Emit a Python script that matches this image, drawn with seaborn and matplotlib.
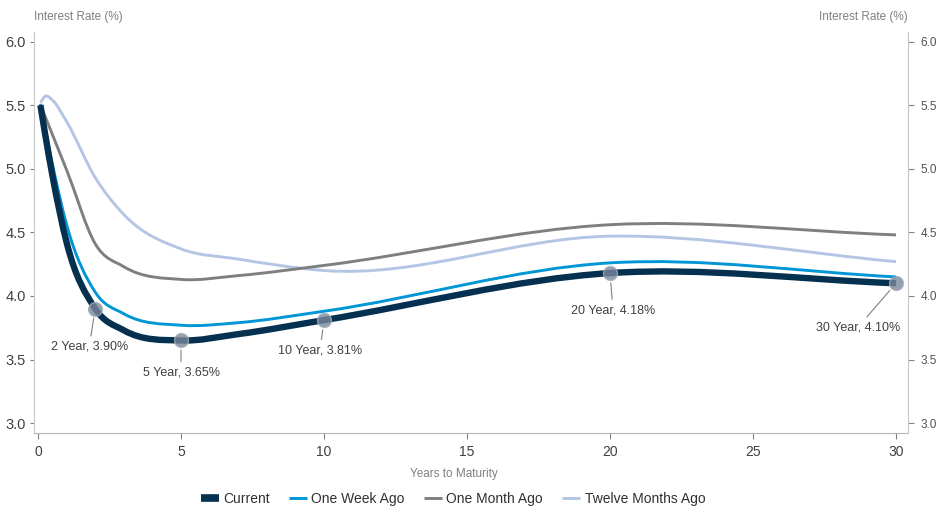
import numpy as np
import pandas as pd
import matplotlib
matplotlib.use("Agg")
import matplotlib.pyplot as plt
from matplotlib.path import Path
from matplotlib.patches import PathPatch
from matplotlib.lines import Line2D
import seaborn as sns

# ── Data ───────────────────────────────────────────────────────────────────
MATURITY     = [1/12, 0.25, 0.5, 1, 2, 3, 5, 7, 10, 20, 30]
CURRENT      = [5.50, 5.27, 4.95, 4.42, 3.90, 3.73, 3.65, 3.70, 3.81, 4.18, 4.10]
ONE_WEEK     = [5.51, 5.32, 5.04, 4.56, 4.03, 3.86, 3.77, 3.79, 3.88, 4.26, 4.15]
ONE_MONTH    = [5.50, 5.41, 5.27, 4.99, 4.41, 4.23, 4.13, 4.16, 4.24, 4.56, 4.48]
TWELVE_MONTH = [5.52, 5.57, 5.54, 5.37, 4.93, 4.64, 4.37, 4.29, 4.20, 4.47, 4.27]

SERIES     = ["Current", "One Week Ago", "One Month Ago", "Twelve Months Ago"]
KEY_TENORS = [2, 5, 10, 20, 30]
X_TICKS    = [0, 5, 10, 15, 20, 25, 30]
Y_TICKS    = [3.0, 3.5, 4.0, 4.5, 5.0, 5.5, 6.0]

# ── Style ──────────────────────────────────────────────────────────────────
sns.set_style("ticks")
plt.rcParams["font.family"] = ["Liberation Sans Narrow", "Liberation Sans", "DejaVu Sans"]

COLORS = {
    "Current":           "#06304f",
    "One Week Ago":      "#0096d6",
    "One Month Ago":     "#7f7f7f",
    "Twelve Months Ago": "#b4c6e4",
}
WIDTHS = {"Current": 4.6, "One Week Ago": 2.1, "One Month Ago": 2.1, "Twelve Months Ago": 2.1}
# (dx, dy) in pixels from marker to label centre
LABEL_OFFSETS = {2: (-6, -38), 5: (0, -32), 10: (-4, -30), 20: (3, -37), 30: (-38, -44)}

df = pd.DataFrame({"maturity": MATURITY, "Current": CURRENT, "One Week Ago": ONE_WEEK,
                   "One Month Ago": ONE_MONTH, "Twelve Months Ago": TWELVE_MONTH})
long = df.melt(id_vars="maturity", var_name="series", value_name="rate")


def smooth_path(x, y):
    """Cubic Bezier path through the points (smoothed-line rendering)."""
    x = np.asarray(x, float); y = np.asarray(y, float)
    h = np.diff(x); d = np.diff(y) / h
    m = np.empty_like(y)
    m[0], m[-1] = d[0], d[-1]
    m[1:-1] = (h[1:] * d[:-1] + h[:-1] * d[1:]) / (h[:-1] + h[1:])
    verts = [(x[0], y[0])]; codes = [Path.MOVETO]
    for i in range(len(x) - 1):
        verts += [(x[i] + h[i] / 3, y[i] + m[i] * h[i] / 3),
                  (x[i + 1] - h[i] / 3, y[i + 1] - m[i + 1] * h[i] / 3),
                  (x[i + 1], y[i + 1])]
        codes += [Path.CURVE4] * 3
    return Path(verts, codes)


fig = plt.figure(figsize=(9.48, 5.16), dpi=100)
ax = fig.add_axes([0.0362, 0.1614, 0.9213, 0.7766])

for name in SERIES[::-1]:
    sub = long[long.series == name]
    ax.add_patch(PathPatch(smooth_path(sub.maturity, sub.rate), fill=False,
                           edgecolor=COLORS[name], lw=WIDTHS[name],
                           capstyle="butt", joinstyle="round"))

key = long[(long.series == "Current") & (long.maturity.isin(KEY_TENORS))]
sns.scatterplot(data=key, x="maturity", y="rate", ax=ax, s=100, color="#7a879c",
                alpha=0.8, edgecolor="#a2abb8", linewidth=1, zorder=5, legend=False)

for _, r in key.iterrows():
    t = int(r.maturity)
    ax.annotate(f"{t} Year, {r.rate:.2f}%", xy=(r.maturity, r.rate),
                xytext=LABEL_OFFSETS[t], textcoords="offset pixels",
                ha="center", va="center", fontsize=9, color="#404040",
                arrowprops=dict(arrowstyle="-", color="#808080", lw=0.8,
                                shrinkA=1, shrinkB=7))

ax.set_xlim(-0.13, 30.41)
ax.set_ylim(2.925, 6.075)
ax.set_xticks(X_TICKS)
ax.set_yticks(Y_TICKS)
ax.set_yticklabels([f"{v:.1f}" for v in Y_TICKS])
ax.set_xlabel(""); ax.set_ylabel("")
ax.tick_params(axis="x", length=4, width=0.8, color="#808080", pad=5,
               labelsize=10, labelcolor="#404040")
ax.tick_params(axis="y", length=3, width=0.8, color="#808080", pad=3,
               labelsize=10.5, labelcolor="#404040")
for s in ["top", "right"]:
    ax.spines[s].set_visible(False)
ax.spines["left"].set_color("#c8c8c8")
ax.spines["bottom"].set_color("#b4b4b4")

ax2 = ax.twinx()
ax2.set_ylim(ax.get_ylim())
ax2.set_yticks(Y_TICKS)
ax2.set_yticklabels([f"{v:.1f}" for v in Y_TICKS])
ax2.tick_params(axis="y", length=4, width=0.8, color="#808080", pad=5,
                labelsize=8.5, labelcolor="#505050")
for s in ["top", "left", "bottom"]:
    ax2.spines[s].set_visible(False)
ax2.spines["right"].set_color("#c8c8c8")

fig.text(34 / 948, 1 - 17 / 516, "Interest Rate (%)", ha="left", va="center",
         fontsize=8.5, color="#808080")
fig.text(908 / 948, 1 - 17 / 516, "Interest Rate (%)", ha="right", va="center",
         fontsize=8.5, color="#808080")
fig.text(454 / 948, 1 - 474 / 516, "Years to Maturity", ha="center", va="center",
         fontsize=8.5, color="#808080")

handles = [Line2D([], [], color=COLORS[n], solid_capstyle="butt",
                  lw=WIDTHS[n] if n != "Current" else 5.5)
           for n in SERIES]
fig.legend(handles, SERIES, loc="center", bbox_to_anchor=(453 / 948, 1 - 499 / 516),
           ncol=4, frameon=False, fontsize=10, handlelength=1.3,
           handletextpad=0.3, columnspacing=1.4, labelcolor="#303030")

fig.savefig("out.png", dpi=100)
